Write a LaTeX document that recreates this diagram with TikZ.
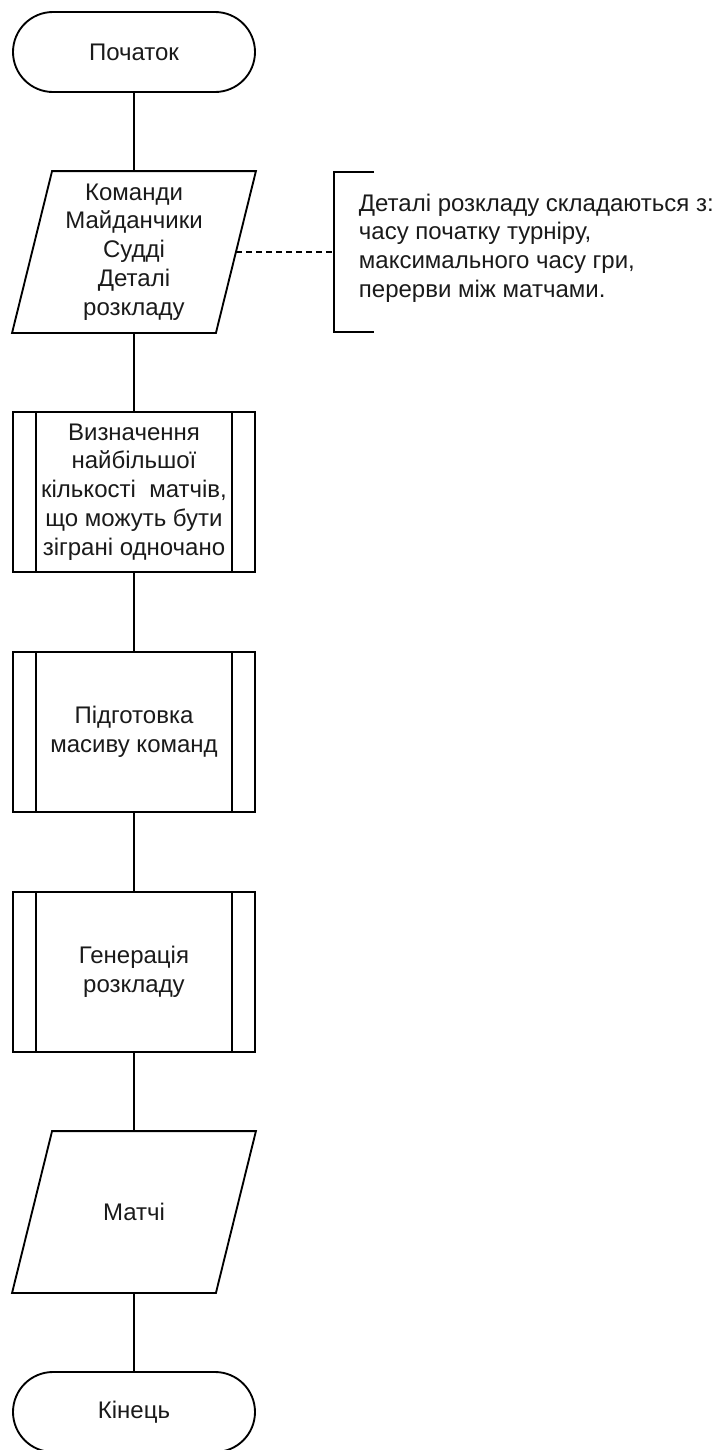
\documentclass[tikz,border=0pt]{standalone}
\usepackage{fontspec}
\setmainfont{Liberation Sans}
\usetikzlibrary{calc}
\definecolor{ink}{HTML}{1A1A1A}
\begin{document}
\begin{tikzpicture}[x=0.75pt,y=-0.75pt,
  line width=1.4pt,
  every node/.style={font=\fontsize{18pt}{21.6pt}\selectfont, text=ink, inner sep=0pt},
  terminal/.style={draw, rectangle, rounded corners=30pt, minimum width=181.5pt, minimum height=60pt},
  iobox/.style={rectangle, minimum width=151.5pt, minimum height=120pt, align=center},
  subproc/.style={draw, rectangle, minimum width=181.5pt, minimum height=120pt, align=center},
  note/.style={align=left, anchor=west},
  link/.style={draw},
  notelink/.style={draw, dash pattern=on 4.5pt off 3pt},
]
\useasboundingbox (0,0) rectangle (718,1450);

% flow blocks
\node[terminal] (start) at (134,52) {Початок};
\node[iobox] (in1) at (134,252) {Команди\\Майданчики\\Судді\\Деталі\\розкладу};
\node[subproc] (p1) at (134,492) {Визначення\\найбільшої\\кількості\ \ матчів,\\що можуть бути\\зіграні одночано};
\node[subproc] (p2) at (134,732) {Підготовка\\масиву команд};
\node[subproc] (p3) at (134,972) {Генерація\\розкладу};
\node[iobox] (out) at (134,1212) {Матчі};
\node[terminal] (stop) at (134,1412) {Кінець};

% parallelogram outlines for the data blocks
\foreach \n in {in1,out}{
  \draw ($(\n.south west)+(-20,0)$) -- ($(\n.north west)+(20,0)$)
     -- ($(\n.north east)+(20,0)$) -- ($(\n.south east)+(-20,0)$) -- cycle;
}

% side bars of the predefined processes
\foreach \n in {p1,p2,p3}{
  \draw ([xshift=18pt]\n.north west) -- ([xshift=18pt]\n.south west);
  \draw ([xshift=-18pt]\n.north east) -- ([xshift=-18pt]\n.south east);
}

% connectors
\draw[link] (start.south) -- (in1.north);
\draw[link] (in1.south) -- (p1.north);
\draw[link] (p1.south) -- (p2.north);
\draw[link] (p2.south) -- (p3.north);
\draw[link] (p3.south) -- (out.north);
\draw[link] (out.south) -- (stop.north);

% annotation
\coordinate (brk) at (334,252);
\draw (374,172) -- (334,172) -- (334,332) -- (374,332);
\node[note] (info) at (358,248) {Деталі розкладу складаються з:\\часу початку турніру,\\максимального часу гри,\\перерви між матчами.};
\draw[notelink] (in1.east) -- (brk);
\end{tikzpicture}
\end{document}
